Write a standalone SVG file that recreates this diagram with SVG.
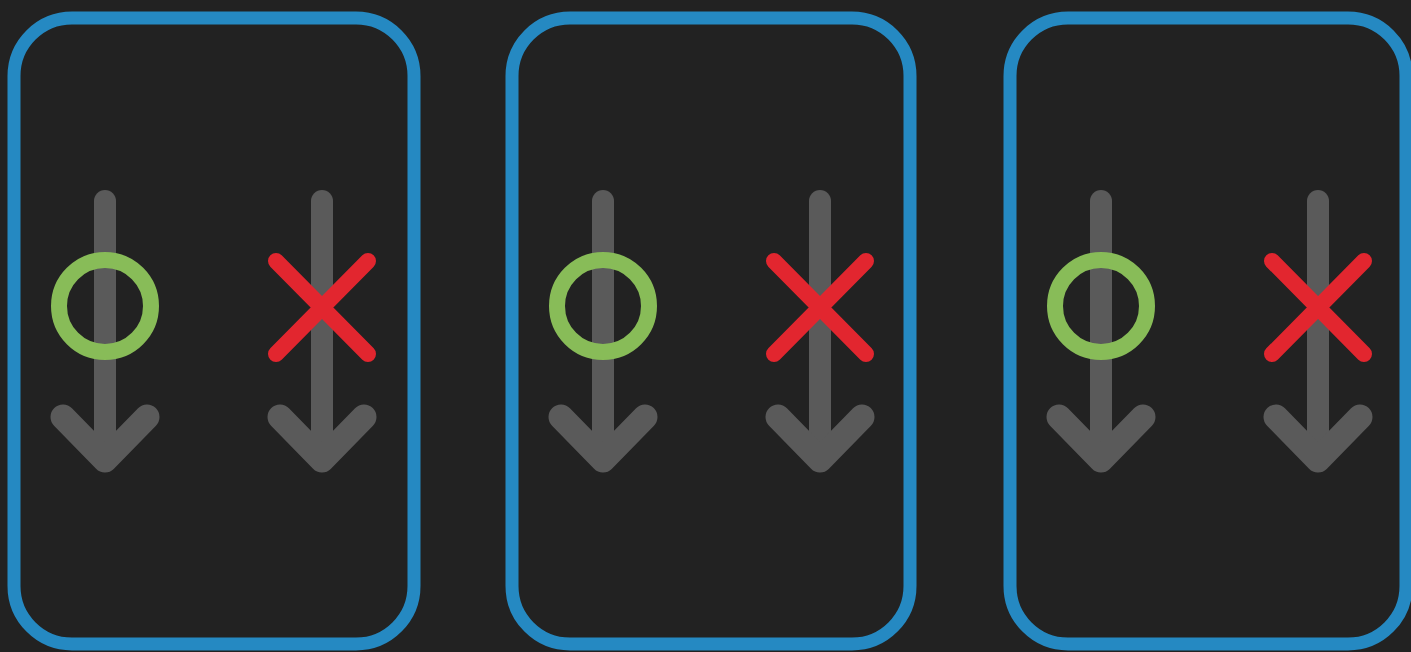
<svg xmlns="http://www.w3.org/2000/svg" xmlns:xlink="http://www.w3.org/1999/xlink" width="1411" height="652" viewBox="0 0 1411 652">
<style>
.box{fill:#222222;stroke:#2589c2;stroke-width:13}
.shaft{fill:none;stroke:#5a5a5a;stroke-width:22;stroke-linecap:round}
.head{fill:none;stroke:#5a5a5a;stroke-width:25;stroke-linecap:round;stroke-linejoin:round}
.ok{fill:none;stroke:#88bc58;stroke-width:16}
.ng{fill:none;stroke:#e2262f;stroke-width:16;stroke-linecap:round}
</style>
<defs>
<g id="arrowDown">
<path class="shaft" d="M0 201 L0 455"/>
<path class="head" d="M-42 417 L0 460 L42 417"/>
</g>
</defs>
<rect width="1411" height="652" fill="#222222"/>
<g id="panel1">
<rect class="box" x="14" y="18" width="400" height="626" rx="58" ry="58"/>
<g id="panel1-ok"><use xlink:href="#arrowDown" x="105"/><circle class="ok" cx="105" cy="306" r="46"/></g>
<g id="panel1-ng"><use xlink:href="#arrowDown" x="322"/><path class="ng" d="M276 261 L368 354 M368 261 L276 354"/></g>
</g>
<g id="panel2">
<rect class="box" x="512" y="18" width="398" height="626" rx="58" ry="58"/>
<g id="panel2-ok"><use xlink:href="#arrowDown" x="603"/><circle class="ok" cx="603" cy="306" r="46"/></g>
<g id="panel2-ng"><use xlink:href="#arrowDown" x="820"/><path class="ng" d="M774 261 L866 354 M866 261 L774 354"/></g>
</g>
<g id="panel3">
<rect class="box" x="1010" y="18" width="396" height="626" rx="58" ry="58"/>
<g id="panel3-ok"><use xlink:href="#arrowDown" x="1101"/><circle class="ok" cx="1101" cy="306" r="46"/></g>
<g id="panel3-ng"><use xlink:href="#arrowDown" x="1318"/><path class="ng" d="M1272 261 L1364 354 M1364 261 L1272 354"/></g>
</g>
<g id="connectors"/>
</svg>
